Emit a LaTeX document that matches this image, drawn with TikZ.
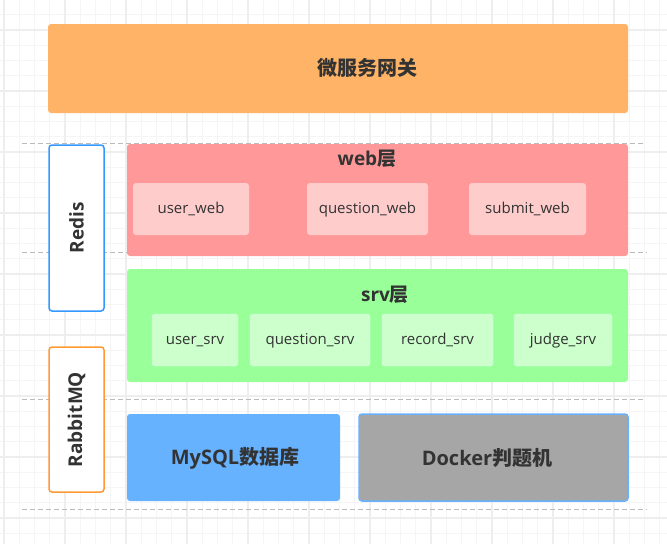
\documentclass[tikz,border=0pt]{standalone}
\usepackage{fontspec}
\setmainfont{Open Sans}
\newfontfamily\cjk{Noto Sans CJK SC}
\usetikzlibrary{positioning}
\definecolor{txt}{HTML}{333333}
\definecolor{gwfill}{HTML}{FFB366}
\definecolor{webfill}{HTML}{FF9999}
\definecolor{websub}{HTML}{FFCCCC}
\definecolor{srvfill}{HTML}{99FF99}
\definecolor{srvsub}{HTML}{CCFFCC}
\definecolor{srvline}{HTML}{DDFFEE}
\definecolor{dbfill}{HTML}{66B2FF}
\definecolor{dockfill}{HTML}{A6A6A6}
\definecolor{redisline}{HTML}{3399FF}
\definecolor{mqline}{HTML}{FF9933}
\definecolor{sepline}{HTML}{BBBBBB}
\definecolor{gridminor}{HTML}{F5F5F5}
\definecolor{gridmajor}{HTML}{EEEEEE}

\begin{document}
\begin{tikzpicture}[x=1pt, y=-1pt,
    box/.style={rectangle, rounded corners=3pt, outer sep=0pt, inner sep=0pt, text=txt},
    layer/.style={box, font=\bfseries\fontsize{20}{24}\selectfont},
    title/.style={text=txt, font=\bfseries\fontsize{20}{24}\selectfont},
    sub/.style={box, minimum height=52pt, text height=8pt, text depth=0pt, font=\fontsize{15}{18}\selectfont},
    side/.style={box, draw, line width=1.5pt, fill=white, minimum width=55pt},
    sep/.style={sepline, line width=1pt, dash pattern=on 5pt off 3pt}]
    \useasboundingbox (0,0) rectangle (667,544);
    % Background grid
    \fill[white] (0,0) rectangle (667,544);
    \foreach \i in {0,...,43} \draw[gridminor, line width=0.8pt] (4+15.25*\i,0) -- (4+15.25*\i,544);
    \foreach \i in {0,...,36} \draw[gridminor, line width=0.8pt] (0,-0.5+15.25*\i) -- (667,-0.5+15.25*\i);
    \foreach \i in {0,...,10} \draw[gridmajor, line width=1.2pt] (4+61*\i,0) -- (4+61*\i,544);
    \foreach \i in {0,...,9} \draw[gridmajor, line width=1.2pt] (0,-31+61*\i) -- (667,-31+61*\i);

    % Separators
    \draw[sep] (22,143) -- (643,143);
    \draw[sep] (22,252) -- (647,252);
    \draw[sep] (22,399) -- (643,399);
    \draw[sep] (22,509) -- (647,509);

    % Define nodes
    \node[layer, fill=gwfill, minimum width=580pt, minimum height=89pt] (gateway) at (338,68.5) {};
    \node[title] (gwtitle) at (367.5,67.5) {\cjk\bfseries 微服务网关};

    \node[side, draw=redisline, minimum height=166pt] (redis) at (76.5,228) {};
    \node[title, rotate=90, font=\bfseries\fontsize{19}{23}\selectfont] (redistitle) at (redis.center) {Redis};
    \node[side, draw=mqline, minimum height=145pt] (mq) at (76.5,419.5) {};
    \node[title, rotate=90, font=\bfseries\fontsize{19}{23}\selectfont] (mqtitle) at (mq.center) {RabbitMQ};

    \node[layer, fill=webfill, minimum width=501pt, minimum height=112pt] (web) at (377.5,200) {};
    \node[title, font=\bfseries\fontsize{19}{23}\selectfont] (webtitle) at (367,159) {web{\cjk\bfseries 层}};
    \node[sub, fill=websub, minimum width=116pt] (userweb) at (191,209) {user\_web};
    \node[sub, fill=websub, minimum width=121pt, right=58pt of userweb] (questionweb) {question\_web};
    \node[sub, fill=websub, minimum width=117pt, right=41pt of questionweb] (submitweb) {submit\_web};

    \node[layer, fill=srvfill, minimum width=501pt, minimum height=113pt] (srv) at (377.5,325.5) {};
    \node[title, font=\bfseries\fontsize{19}{23}\selectfont] (srvtitle) at (385,295) {srv{\cjk\bfseries 层}};
    \node[sub, fill=srvsub, draw=srvline, minimum width=86pt] (usersrv) at (195,340) {user\_srv};
    \node[sub, fill=srvsub, draw=srvline, minimum width=120pt, right=12pt of usersrv] (questionsrv) {question\_srv};
    \node[sub, fill=srvsub, draw=srvline, minimum width=111pt, right=12pt of questionsrv] (recordsrv) {record\_srv};
    \node[sub, fill=srvsub, draw=srvline, minimum width=98pt, right=21pt of recordsrv] (judgesrv) {judge\_srv};

    \node[layer, fill=dbfill, minimum width=213pt, minimum height=87pt] (mysql) at (233.5,457.5) {};
    \node[title] (mysqltitle) at (235,458) {MySQL{\cjk\bfseries 数据库}};
    \node[layer, fill=dockfill, draw=dbfill, line width=1.5pt, minimum width=269pt, minimum height=87pt] (docker) at (493.5,457.5) {};
    \node[title] (dockertitle) at (487,458) {Docker{\cjk\bfseries 判题机}};
\end{tikzpicture}
\end{document}
